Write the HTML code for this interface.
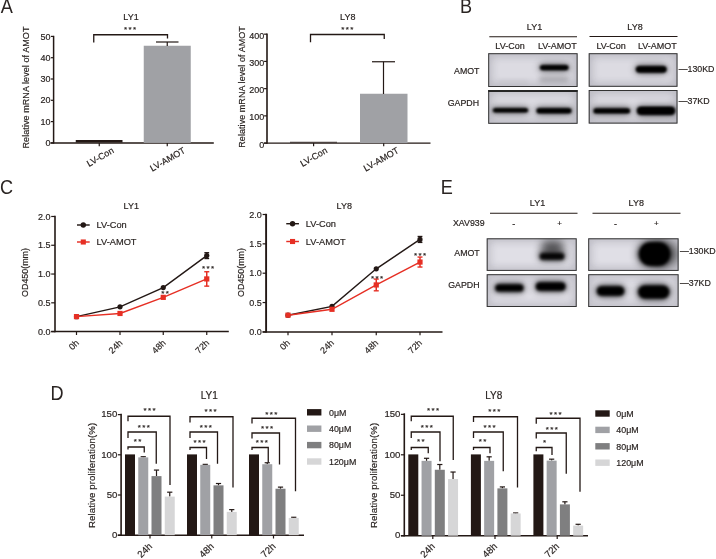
<!DOCTYPE html>
<html><head><meta charset="utf-8"><title>Figure</title>
<style>
html,body{margin:0;padding:0;background:#fff;}
body{width:716px;height:559px;overflow:hidden;font-family:"Liberation Sans",sans-serif;}
svg{display:block;}
svg{will-change:transform;}
svg text{font-family:"Liberation Sans",sans-serif;stroke:#2a2422;stroke-width:0.18px;}
</style></head>
<body>
<svg width="716" height="559" viewBox="0 0 716 559">
<rect width="716" height="559" fill="#fff"/>

<defs>
<filter id="b1" x="-30%" y="-100%" width="160%" height="300%"><feGaussianBlur stdDeviation="1.1"/></filter>
<filter id="b2" x="-30%" y="-150%" width="160%" height="400%"><feGaussianBlur stdDeviation="2.4"/></filter>
<filter id="b3" x="-50%" y="-150%" width="200%" height="400%"><feGaussianBlur stdDeviation="4"/></filter>
<filter id="b15" x="-30%" y="-100%" width="160%" height="300%"><feGaussianBlur stdDeviation="1.7"/></filter>
</defs>

<text transform="translate(0.8 13.2) scale(0.93 1)" font-size="19.5" fill="#2a2422" style="stroke:none">A</text>
<text transform="translate(460.0 13.1) scale(0.93 1)" font-size="19.5" fill="#2a2422" style="stroke:none">B</text>
<text transform="translate(-0.1 193.7) scale(0.93 1)" font-size="19.5" fill="#2a2422" style="stroke:none">C</text>
<text transform="translate(440.8 193.6) scale(0.93 1)" font-size="19.5" fill="#2a2422" style="stroke:none">E</text>
<text transform="translate(50.4 400.2) scale(0.93 1)" font-size="19.5" fill="#2a2422" style="stroke:none">D</text>
<text x="131" y="20" font-size="9" text-anchor="middle" fill="#2a2422">LY1</text>
<line x1="53.6" y1="35.8" x2="53.6" y2="143.6" stroke="#231815" stroke-width="1.5"/>
<line x1="50.4" y1="142.9" x2="213.8" y2="142.9" stroke="#231815" stroke-width="1.5"/>
<line x1="51.0" y1="142.9" x2="53.6" y2="142.9" stroke="#231815" stroke-width="1.2"/>
<text x="50.6" y="146.0" font-size="9" text-anchor="end" fill="#2a2422">0</text>
<line x1="51.0" y1="121.60000000000001" x2="53.6" y2="121.60000000000001" stroke="#231815" stroke-width="1.2"/>
<text x="50.6" y="124.7" font-size="9" text-anchor="end" fill="#2a2422">10</text>
<line x1="51.0" y1="100.30000000000001" x2="53.6" y2="100.30000000000001" stroke="#231815" stroke-width="1.2"/>
<text x="50.6" y="103.4" font-size="9" text-anchor="end" fill="#2a2422">20</text>
<line x1="51.0" y1="79.0" x2="53.6" y2="79.0" stroke="#231815" stroke-width="1.2"/>
<text x="50.6" y="82.1" font-size="9" text-anchor="end" fill="#2a2422">30</text>
<line x1="51.0" y1="57.7" x2="53.6" y2="57.7" stroke="#231815" stroke-width="1.2"/>
<text x="50.6" y="60.800000000000004" font-size="9" text-anchor="end" fill="#2a2422">40</text>
<line x1="51.0" y1="36.400000000000006" x2="53.6" y2="36.400000000000006" stroke="#231815" stroke-width="1.2"/>
<text x="50.6" y="39.50000000000001" font-size="9" text-anchor="end" fill="#2a2422">50</text>
<line x1="99.25" y1="142.9" x2="99.25" y2="146.2" stroke="#231815" stroke-width="1.2"/>
<line x1="167.25" y1="142.9" x2="167.25" y2="146.2" stroke="#231815" stroke-width="1.2"/>
<rect x="75.75" y="140" width="46.75" height="2.5" fill="#231815"/>
<rect x="143.75" y="45.75" width="47" height="97.15" fill="#a0a1a5"/>
<line x1="167.25" y1="42" x2="167.25" y2="46" stroke="#231815" stroke-width="1.2"/>
<line x1="156" y1="42" x2="178.5" y2="42" stroke="#231815" stroke-width="1.2"/>
<path d="M93.75 42.5V34.75H167.5V38.5" stroke="#231815" stroke-width="1.3" fill="none"/>
<text x="130.7" y="32.1" font-size="8" text-anchor="middle" fill="#2a2422" letter-spacing="1.4" stroke="none">***</text>
<text x="29.2" y="87.5" font-size="9" text-anchor="middle" fill="#2a2422" transform="rotate(-90 29.2 87.5)" letter-spacing="0.07">Relative mRNA level of AMOT</text>
<text x="114.5" y="152.3" font-size="9" text-anchor="end" fill="#2a2422" transform="rotate(-30 114.5 152.3)">LV-Con</text>
<text x="186" y="152.3" font-size="9" text-anchor="end" fill="#2a2422" transform="rotate(-30 186 152.3)">LV-AMOT</text>
<text x="347.8" y="20" font-size="9" text-anchor="middle" fill="#2a2422">LY8</text>
<line x1="267" y1="33.6" x2="267" y2="143.79999999999998" stroke="#231815" stroke-width="1.6"/>
<line x1="264" y1="143.1" x2="430.5" y2="143.1" stroke="#231815" stroke-width="1.4"/>
<line x1="264.1" y1="143.1" x2="267" y2="143.1" stroke="#231815" stroke-width="1.2"/>
<text x="264.2" y="147.5" font-size="9" text-anchor="end" fill="#2a2422">0</text>
<line x1="264.1" y1="115.86999999999999" x2="267" y2="115.86999999999999" stroke="#231815" stroke-width="1.2"/>
<text x="264.2" y="120.27" font-size="9" text-anchor="end" fill="#2a2422">100</text>
<line x1="264.1" y1="88.63999999999999" x2="267" y2="88.63999999999999" stroke="#231815" stroke-width="1.2"/>
<text x="264.2" y="93.03999999999999" font-size="9" text-anchor="end" fill="#2a2422">200</text>
<line x1="264.1" y1="61.41" x2="267" y2="61.41" stroke="#231815" stroke-width="1.2"/>
<text x="264.2" y="65.81" font-size="9" text-anchor="end" fill="#2a2422">300</text>
<line x1="264.1" y1="34.17999999999999" x2="267" y2="34.17999999999999" stroke="#231815" stroke-width="1.2"/>
<text x="264.2" y="38.57999999999999" font-size="9" text-anchor="end" fill="#2a2422">400</text>
<line x1="313.6" y1="143.1" x2="313.6" y2="146.3" stroke="#231815" stroke-width="1.2"/>
<line x1="383.7" y1="143.1" x2="383.7" y2="146.3" stroke="#231815" stroke-width="1.2"/>
<rect x="290" y="141.8" width="47" height="0.8" fill="#231815"/>
<rect x="360" y="93.75" width="47.5" height="49.349999999999994" fill="#a0a1a5"/>
<line x1="383.5" y1="61.75" x2="383.5" y2="94" stroke="#231815" stroke-width="1.2"/>
<line x1="372" y1="61.75" x2="395" y2="61.75" stroke="#231815" stroke-width="1.2"/>
<path d="M310.5 42.3V34.5H384.25V39" stroke="#231815" stroke-width="1.3" fill="none"/>
<text x="348.0" y="32.4" font-size="8" text-anchor="middle" fill="#2a2422" letter-spacing="1.4" stroke="none">***</text>
<text x="245.2" y="86.9" font-size="9" text-anchor="middle" fill="#2a2422" transform="rotate(-90 245.2 86.9)" letter-spacing="0.06">Relative mRNA level of AMOT</text>
<text x="328" y="152.3" font-size="9" text-anchor="end" fill="#2a2422" transform="rotate(-30 328 152.3)">LV-Con</text>
<text x="399.5" y="152.3" font-size="9" text-anchor="end" fill="#2a2422" transform="rotate(-30 399.5 152.3)">LV-AMOT</text>
<text x="131.3" y="209.3" font-size="9" text-anchor="middle" fill="#2a2422">LY1</text>
<line x1="55.0" y1="215.8" x2="55.0" y2="332.3" stroke="#231815" stroke-width="1.6"/>
<line x1="51.2" y1="331.6" x2="228.8" y2="331.6" stroke="#231815" stroke-width="1.5"/>
<line x1="51.2" y1="331.6" x2="55.0" y2="331.6" stroke="#231815" stroke-width="1.2"/>
<text x="50.6" y="334.70000000000005" font-size="9" text-anchor="end" fill="#2a2422">0.0</text>
<line x1="51.2" y1="302.82000000000005" x2="55.0" y2="302.82000000000005" stroke="#231815" stroke-width="1.2"/>
<text x="50.6" y="305.9200000000001" font-size="9" text-anchor="end" fill="#2a2422">0.5</text>
<line x1="51.2" y1="274.04" x2="55.0" y2="274.04" stroke="#231815" stroke-width="1.2"/>
<text x="50.6" y="277.14000000000004" font-size="9" text-anchor="end" fill="#2a2422">1.0</text>
<line x1="51.2" y1="245.26000000000002" x2="55.0" y2="245.26000000000002" stroke="#231815" stroke-width="1.2"/>
<text x="50.6" y="248.36" font-size="9" text-anchor="end" fill="#2a2422">1.5</text>
<line x1="51.2" y1="216.48000000000002" x2="55.0" y2="216.48000000000002" stroke="#231815" stroke-width="1.2"/>
<text x="50.6" y="219.58" font-size="9" text-anchor="end" fill="#2a2422">2.0</text>
<line x1="76.5" y1="331.6" x2="76.5" y2="335.0" stroke="#231815" stroke-width="1.2"/>
<text x="79.5" y="343.5" font-size="9" text-anchor="end" fill="#2a2422" transform="rotate(-45 79.5 343.5)">0h</text>
<line x1="120" y1="331.6" x2="120" y2="335.0" stroke="#231815" stroke-width="1.2"/>
<text x="123" y="343.5" font-size="9" text-anchor="end" fill="#2a2422" transform="rotate(-45 123 343.5)">24h</text>
<line x1="163.25" y1="331.6" x2="163.25" y2="335.0" stroke="#231815" stroke-width="1.2"/>
<text x="166.25" y="343.5" font-size="9" text-anchor="end" fill="#2a2422" transform="rotate(-45 166.25 343.5)">48h</text>
<line x1="206.75" y1="331.6" x2="206.75" y2="335.0" stroke="#231815" stroke-width="1.2"/>
<text x="209.75" y="343.5" font-size="9" text-anchor="end" fill="#2a2422" transform="rotate(-45 209.75 343.5)">72h</text>
<polyline points="76.5,316.63 120,306.85 163.25,287.57 206.75,255.62" fill="none" stroke="#231815" stroke-width="1.45"/>
<circle cx="76.5" cy="316.63" r="2.6" fill="#231815"/>
<circle cx="120" cy="306.85" r="2.6" fill="#231815"/>
<circle cx="163.25" cy="287.57" r="2.6" fill="#231815"/>
<line x1="206.75" y1="252.74280000000002" x2="206.75" y2="258.4988" stroke="#231815" stroke-width="1.2"/>
<line x1="204.35" y1="252.74280000000002" x2="209.15" y2="252.74280000000002" stroke="#231815" stroke-width="1.4"/>
<line x1="204.35" y1="258.4988" x2="209.15" y2="258.4988" stroke="#231815" stroke-width="1.4"/>
<circle cx="206.75" cy="255.62" r="2.6" fill="#231815"/>
<polyline points="76.5,316.63 120,313.47 163.25,297.35 206.75,278.93" fill="none" stroke="#e62f24" stroke-width="1.45"/>
<rect x="73.9" y="314.0344" width="5.2" height="5.2" fill="#e62f24"/>
<rect x="117.4" y="310.8686" width="5.2" height="5.2" fill="#e62f24"/>
<rect x="160.65" y="294.7518" width="5.2" height="5.2" fill="#e62f24"/>
<line x1="206.75" y1="271.73760000000004" x2="206.75" y2="286.12760000000003" stroke="#e62f24" stroke-width="1.5"/>
<line x1="204.25" y1="271.73760000000004" x2="209.25" y2="271.73760000000004" stroke="#e62f24" stroke-width="1.4"/>
<line x1="204.25" y1="286.12760000000003" x2="209.25" y2="286.12760000000003" stroke="#e62f24" stroke-width="1.4"/>
<rect x="204.15" y="276.3326" width="5.2" height="5.2" fill="#e62f24"/>
<text x="165.7" y="295.90000000000003" font-size="8" text-anchor="middle" fill="#2a2422" letter-spacing="1.4" stroke="none">**</text>
<text x="208.7" y="271.20000000000005" font-size="8" text-anchor="middle" fill="#2a2422" letter-spacing="1.4" stroke="none">***</text>
<line x1="77" y1="225" x2="89.7" y2="225" stroke="#231815" stroke-width="1.45"/>
<circle cx="83.3" cy="225" r="2.7" fill="#231815"/>
<text x="96.6" y="228.1" font-size="9.25" text-anchor="start" fill="#2a2422">LV-Con</text>
<line x1="77" y1="242" x2="89.7" y2="242" stroke="#e62f24" stroke-width="1.45"/>
<rect x="80.75" y="239.45" width="5.1" height="5.1" fill="#e62f24"/>
<text x="96.6" y="245.3" font-size="9.25" text-anchor="start" fill="#2a2422">LV-AMOT</text>
<text x="28.0" y="272.5" font-size="8.9" text-anchor="middle" fill="#2a2422" transform="rotate(-90 28.0 272.5)">OD450(mm)</text>
<text x="344.25" y="209.3" font-size="9" text-anchor="middle" fill="#2a2422">LY8</text>
<line x1="266.1" y1="213.8" x2="266.1" y2="332.59999999999997" stroke="#231815" stroke-width="1.9"/>
<line x1="262.6" y1="331.9" x2="442.5" y2="331.9" stroke="#231815" stroke-width="1.5"/>
<line x1="262.6" y1="331.9" x2="266.1" y2="331.9" stroke="#231815" stroke-width="1.2"/>
<text x="261.7" y="335.0" font-size="9" text-anchor="end" fill="#2a2422">0.0</text>
<line x1="262.6" y1="302.54999999999995" x2="266.1" y2="302.54999999999995" stroke="#231815" stroke-width="1.2"/>
<text x="261.7" y="305.65" font-size="9" text-anchor="end" fill="#2a2422">0.5</text>
<line x1="262.6" y1="273.2" x2="266.1" y2="273.2" stroke="#231815" stroke-width="1.2"/>
<text x="261.7" y="276.3" font-size="9" text-anchor="end" fill="#2a2422">1.0</text>
<line x1="262.6" y1="243.84999999999997" x2="266.1" y2="243.84999999999997" stroke="#231815" stroke-width="1.2"/>
<text x="261.7" y="246.94999999999996" font-size="9" text-anchor="end" fill="#2a2422">1.5</text>
<line x1="262.6" y1="214.49999999999997" x2="266.1" y2="214.49999999999997" stroke="#231815" stroke-width="1.2"/>
<text x="261.7" y="217.59999999999997" font-size="9" text-anchor="end" fill="#2a2422">2.0</text>
<line x1="288" y1="331.9" x2="288" y2="335.29999999999995" stroke="#231815" stroke-width="1.2"/>
<text x="290.5" y="343.5" font-size="9" text-anchor="end" fill="#2a2422" transform="rotate(-45 290.5 343.5)">0h</text>
<line x1="332" y1="331.9" x2="332" y2="335.29999999999995" stroke="#231815" stroke-width="1.2"/>
<text x="334.5" y="343.5" font-size="9" text-anchor="end" fill="#2a2422" transform="rotate(-45 334.5 343.5)">24h</text>
<line x1="376.25" y1="331.9" x2="376.25" y2="335.29999999999995" stroke="#231815" stroke-width="1.2"/>
<text x="378.75" y="343.5" font-size="9" text-anchor="end" fill="#2a2422" transform="rotate(-45 378.75 343.5)">48h</text>
<line x1="420" y1="331.9" x2="420" y2="335.29999999999995" stroke="#231815" stroke-width="1.2"/>
<text x="422.5" y="343.5" font-size="9" text-anchor="end" fill="#2a2422" transform="rotate(-45 422.5 343.5)">72h</text>
<polyline points="288,315.17 332,306.37 376.25,268.80 420,239.45" fill="none" stroke="#231815" stroke-width="1.45"/>
<circle cx="288" cy="315.17" r="2.6" fill="#231815"/>
<circle cx="332" cy="306.37" r="2.6" fill="#231815"/>
<circle cx="376.25" cy="268.80" r="2.6" fill="#231815"/>
<line x1="420" y1="236.5125" x2="420" y2="242.3825" stroke="#231815" stroke-width="1.2"/>
<line x1="417.6" y1="236.5125" x2="422.4" y2="236.5125" stroke="#231815" stroke-width="1.4"/>
<line x1="417.6" y1="242.3825" x2="422.4" y2="242.3825" stroke="#231815" stroke-width="1.4"/>
<circle cx="420" cy="239.45" r="2.6" fill="#231815"/>
<polyline points="288,315.17 332,309.30 376.25,284.94 420,262.05" fill="none" stroke="#e62f24" stroke-width="1.45"/>
<rect x="285.4" y="312.5705" width="5.2" height="5.2" fill="#e62f24"/>
<rect x="329.4" y="306.7005" width="5.2" height="5.2" fill="#e62f24"/>
<line x1="376.25" y1="279.07" x2="376.25" y2="290.80999999999995" stroke="#e62f24" stroke-width="1.5"/>
<line x1="373.75" y1="279.07" x2="378.75" y2="279.07" stroke="#e62f24" stroke-width="1.4"/>
<line x1="373.75" y1="290.80999999999995" x2="378.75" y2="290.80999999999995" stroke="#e62f24" stroke-width="1.4"/>
<rect x="373.65" y="282.3399999999999" width="5.2" height="5.2" fill="#e62f24"/>
<line x1="420" y1="257.0575" x2="420" y2="267.0365" stroke="#e62f24" stroke-width="1.5"/>
<line x1="417.5" y1="257.0575" x2="422.5" y2="257.0575" stroke="#e62f24" stroke-width="1.4"/>
<line x1="417.5" y1="267.0365" x2="422.5" y2="267.0365" stroke="#e62f24" stroke-width="1.4"/>
<rect x="417.4" y="259.44699999999995" width="5.2" height="5.2" fill="#e62f24"/>
<text x="377.7" y="280.6" font-size="8" text-anchor="middle" fill="#2a2422" letter-spacing="1.4" stroke="none">***</text>
<text x="420.7" y="257.6" font-size="8" text-anchor="middle" fill="#2a2422" letter-spacing="1.4" stroke="none">***</text>
<line x1="286.25" y1="223.7" x2="298.95" y2="223.7" stroke="#231815" stroke-width="1.45"/>
<circle cx="292.55" cy="223.7" r="2.7" fill="#231815"/>
<text x="305.85" y="226.79999999999998" font-size="9.25" text-anchor="start" fill="#2a2422">LV-Con</text>
<line x1="286.25" y1="241.5" x2="298.95" y2="241.5" stroke="#e62f24" stroke-width="1.45"/>
<rect x="290.0" y="238.95" width="5.1" height="5.1" fill="#e62f24"/>
<text x="305.85" y="244.8" font-size="9.25" text-anchor="start" fill="#2a2422">LV-AMOT</text>
<text x="244.29999999999998" y="272.5" font-size="8.9" text-anchor="middle" fill="#2a2422" transform="rotate(-90 244.29999999999998 272.5)">OD450(mm)</text>
<text x="209.25" y="398.6" font-size="10" text-anchor="middle" fill="#2a2422">LY1</text>
<line x1="121.1" y1="413.8" x2="121.1" y2="535.9000000000001" stroke="#231815" stroke-width="1.6"/>
<line x1="117.8" y1="535.2" x2="304" y2="535.2" stroke="#231815" stroke-width="1.5"/>
<line x1="117.8" y1="535.2" x2="121.1" y2="535.2" stroke="#231815" stroke-width="1.2"/>
<text x="117.3" y="537.9000000000001" font-size="9.6" text-anchor="end" fill="#2a2422">0</text>
<line x1="117.8" y1="495.00000000000006" x2="121.1" y2="495.00000000000006" stroke="#231815" stroke-width="1.2"/>
<text x="117.3" y="497.70000000000005" font-size="9.6" text-anchor="end" fill="#2a2422">50</text>
<line x1="117.8" y1="454.80000000000007" x2="121.1" y2="454.80000000000007" stroke="#231815" stroke-width="1.2"/>
<text x="117.3" y="457.50000000000006" font-size="9.6" text-anchor="end" fill="#2a2422">100</text>
<line x1="117.8" y1="414.6" x2="121.1" y2="414.6" stroke="#231815" stroke-width="1.2"/>
<text x="117.3" y="417.3" font-size="9.6" text-anchor="end" fill="#2a2422">150</text>
<line x1="150" y1="535.2" x2="150" y2="538.5" stroke="#231815" stroke-width="1.2"/>
<text x="152.7" y="547" font-size="9.6" text-anchor="end" fill="#2a2422" transform="rotate(-45 152.7 547)">24h</text>
<rect x="125.0" y="454.398" width="10" height="80.80200000000002" fill="#231815"/>
<line x1="143.25" y1="456.72960000000006" x2="143.25" y2="457.37280000000004" stroke="#231815" stroke-width="1.2"/>
<line x1="140.65" y1="456.72960000000006" x2="145.85" y2="456.72960000000006" stroke="#231815" stroke-width="1.2"/>
<rect x="138.25" y="457.37280000000004" width="10" height="77.8272" fill="#a0a1a5"/>
<line x1="156.5" y1="470.076" x2="156.5" y2="476.10600000000005" stroke="#231815" stroke-width="1.2"/>
<line x1="153.9" y1="470.076" x2="159.1" y2="470.076" stroke="#231815" stroke-width="1.2"/>
<rect x="151.5" y="476.10600000000005" width="10" height="59.093999999999994" fill="#7f7f80"/>
<line x1="169.75" y1="492.18600000000004" x2="169.75" y2="496.60800000000006" stroke="#231815" stroke-width="1.2"/>
<line x1="167.15" y1="492.18600000000004" x2="172.35" y2="492.18600000000004" stroke="#231815" stroke-width="1.2"/>
<rect x="164.75" y="496.60800000000006" width="10" height="38.591999999999985" fill="#d6d6d7"/>
<path d="M128 449.5V447H144.25V452.5" stroke="#231815" stroke-width="1.3" fill="none"/>
<text x="138.2" y="443.8" font-size="8" text-anchor="middle" fill="#2a2422" letter-spacing="1.4" stroke="none">**</text>
<path d="M128 438V432H156.25V463.75" stroke="#231815" stroke-width="1.3" fill="none"/>
<text x="144.45" y="430.3" font-size="8" text-anchor="middle" fill="#2a2422" letter-spacing="1.4" stroke="none">***</text>
<path d="M128 421.25V416.25H170V485" stroke="#231815" stroke-width="1.3" fill="none"/>
<text x="150.2" y="413.3" font-size="8" text-anchor="middle" fill="#2a2422" letter-spacing="1.4" stroke="none">***</text>
<line x1="211.75" y1="535.2" x2="211.75" y2="538.5" stroke="#231815" stroke-width="1.2"/>
<text x="214.45" y="547" font-size="9.6" text-anchor="end" fill="#2a2422" transform="rotate(-45 214.45 547)">48h</text>
<rect x="187.0" y="454.398" width="10" height="80.80200000000002" fill="#231815"/>
<line x1="205.25" y1="464.36760000000004" x2="205.25" y2="464.85" stroke="#231815" stroke-width="1.2"/>
<line x1="202.65" y1="464.36760000000004" x2="207.85" y2="464.36760000000004" stroke="#231815" stroke-width="1.2"/>
<rect x="200.25" y="464.85" width="10" height="70.35000000000002" fill="#a0a1a5"/>
<line x1="218.5" y1="483.50280000000004" x2="218.5" y2="485.35200000000003" stroke="#231815" stroke-width="1.2"/>
<line x1="215.9" y1="483.50280000000004" x2="221.1" y2="483.50280000000004" stroke="#231815" stroke-width="1.2"/>
<rect x="213.5" y="485.35200000000003" width="10" height="49.84800000000001" fill="#7f7f80"/>
<line x1="231.75" y1="509.63280000000003" x2="231.75" y2="511.884" stroke="#231815" stroke-width="1.2"/>
<line x1="229.15" y1="509.63280000000003" x2="234.35" y2="509.63280000000003" stroke="#231815" stroke-width="1.2"/>
<rect x="226.75" y="511.884" width="10" height="23.31600000000003" fill="#d6d6d7"/>
<path d="M190 450V447.5H206.5V459" stroke="#231815" stroke-width="1.3" fill="none"/>
<text x="200.2" y="444.5" font-size="8" text-anchor="middle" fill="#2a2422" letter-spacing="1.4" stroke="none">***</text>
<path d="M190 438V432H217.5V463.75" stroke="#231815" stroke-width="1.3" fill="none"/>
<text x="206.45" y="430.3" font-size="8" text-anchor="middle" fill="#2a2422" letter-spacing="1.4" stroke="none">***</text>
<path d="M190 422.5V416.75H233V487.5" stroke="#231815" stroke-width="1.3" fill="none"/>
<text x="211.2" y="413.8" font-size="8" text-anchor="middle" fill="#2a2422" letter-spacing="1.4" stroke="none">***</text>
<line x1="273.5" y1="535.2" x2="273.5" y2="538.5" stroke="#231815" stroke-width="1.2"/>
<text x="276.2" y="547" font-size="9.6" text-anchor="end" fill="#2a2422" transform="rotate(-45 276.2 547)">72h</text>
<rect x="249.0" y="454.398" width="10" height="80.80200000000002" fill="#231815"/>
<line x1="267.25" y1="462.75960000000003" x2="267.25" y2="464.20680000000004" stroke="#231815" stroke-width="1.2"/>
<line x1="264.65" y1="462.75960000000003" x2="269.85" y2="462.75960000000003" stroke="#231815" stroke-width="1.2"/>
<rect x="262.25" y="464.20680000000004" width="10" height="70.9932" fill="#a0a1a5"/>
<line x1="280.5" y1="487.12080000000003" x2="280.5" y2="488.72880000000004" stroke="#231815" stroke-width="1.2"/>
<line x1="277.9" y1="487.12080000000003" x2="283.1" y2="487.12080000000003" stroke="#231815" stroke-width="1.2"/>
<rect x="275.5" y="488.72880000000004" width="10" height="46.47120000000001" fill="#7f7f80"/>
<line x1="293.75" y1="517.2708" x2="293.75" y2="517.914" stroke="#231815" stroke-width="1.2"/>
<line x1="291.15" y1="517.2708" x2="296.35" y2="517.2708" stroke="#231815" stroke-width="1.2"/>
<rect x="288.75" y="517.914" width="10" height="17.286000000000058" fill="#d6d6d7"/>
<path d="M252 450V447.5H268.25V462.5" stroke="#231815" stroke-width="1.3" fill="none"/>
<text x="262.45" y="444.5" font-size="8" text-anchor="middle" fill="#2a2422" letter-spacing="1.4" stroke="none">***</text>
<path d="M252 438.5V433H279.5V464.5" stroke="#231815" stroke-width="1.3" fill="none"/>
<text x="267.7" y="431.3" font-size="8" text-anchor="middle" fill="#2a2422" letter-spacing="1.4" stroke="none">***</text>
<path d="M252 423.5V418.25H295.5V491.25" stroke="#231815" stroke-width="1.3" fill="none"/>
<text x="271.95" y="416.5" font-size="8" text-anchor="middle" fill="#2a2422" letter-spacing="1.4" stroke="none">***</text>
<text x="95.0" y="475.4" font-size="9.7" text-anchor="middle" fill="#2a2422" transform="rotate(-90 95.0 475.4)" letter-spacing="0.08">Relative proliferation(%)</text>
<rect x="307.0" y="409.1" width="14.4" height="6.4" fill="#231815"/>
<text x="329" y="415.6" font-size="8.9" text-anchor="start" fill="#2a2422">0μM</text>
<rect x="307.0" y="425.5" width="14.4" height="6.4" fill="#a0a1a5"/>
<text x="329" y="432.0" font-size="8.9" text-anchor="start" fill="#2a2422">40μM</text>
<rect x="307.0" y="441.90000000000003" width="14.4" height="6.4" fill="#7f7f80"/>
<text x="329" y="448.40000000000003" font-size="8.9" text-anchor="start" fill="#2a2422">80μM</text>
<rect x="307.0" y="458.3" width="14.4" height="6.4" fill="#d6d6d7"/>
<text x="329" y="464.8" font-size="8.9" text-anchor="start" fill="#2a2422">120μM</text>
<text x="493.75" y="398.6" font-size="10" text-anchor="middle" fill="#2a2422">LY8</text>
<line x1="404.3" y1="413.3" x2="404.3" y2="536.4000000000001" stroke="#231815" stroke-width="1.6"/>
<line x1="400.9" y1="535.7" x2="588" y2="535.7" stroke="#231815" stroke-width="1.5"/>
<line x1="400.9" y1="535.7" x2="404.3" y2="535.7" stroke="#231815" stroke-width="1.2"/>
<text x="400.4" y="538.4000000000001" font-size="9.6" text-anchor="end" fill="#2a2422">0</text>
<line x1="400.9" y1="495.25000000000006" x2="404.3" y2="495.25000000000006" stroke="#231815" stroke-width="1.2"/>
<text x="400.4" y="497.95000000000005" font-size="9.6" text-anchor="end" fill="#2a2422">50</text>
<line x1="400.9" y1="454.80000000000007" x2="404.3" y2="454.80000000000007" stroke="#231815" stroke-width="1.2"/>
<text x="400.4" y="457.50000000000006" font-size="9.6" text-anchor="end" fill="#2a2422">100</text>
<line x1="400.9" y1="414.35" x2="404.3" y2="414.35" stroke="#231815" stroke-width="1.2"/>
<text x="400.4" y="417.05" font-size="9.6" text-anchor="end" fill="#2a2422">150</text>
<line x1="432.8" y1="535.7" x2="432.8" y2="539.0" stroke="#231815" stroke-width="1.2"/>
<text x="435.5" y="547" font-size="9.6" text-anchor="end" fill="#2a2422" transform="rotate(-45 435.5 547)">24h</text>
<rect x="408.3" y="454.3955" width="10" height="81.30450000000002" fill="#231815"/>
<line x1="426.55" y1="458.2787000000001" x2="426.55" y2="460.86750000000006" stroke="#231815" stroke-width="1.2"/>
<line x1="423.95" y1="458.2787000000001" x2="429.15000000000003" y2="458.2787000000001" stroke="#231815" stroke-width="1.2"/>
<rect x="421.55" y="460.86750000000006" width="10" height="74.83249999999998" fill="#a0a1a5"/>
<line x1="439.8" y1="464.50800000000004" x2="439.8" y2="469.76650000000006" stroke="#231815" stroke-width="1.2"/>
<line x1="437.2" y1="464.50800000000004" x2="442.40000000000003" y2="464.50800000000004" stroke="#231815" stroke-width="1.2"/>
<rect x="434.8" y="469.76650000000006" width="10" height="65.93349999999998" fill="#7f7f80"/>
<line x1="453.05" y1="472.03170000000006" x2="453.05" y2="479.07000000000005" stroke="#231815" stroke-width="1.2"/>
<line x1="450.45" y1="472.03170000000006" x2="455.65000000000003" y2="472.03170000000006" stroke="#231815" stroke-width="1.2"/>
<rect x="448.05" y="479.07000000000005" width="10" height="56.629999999999995" fill="#d6d6d7"/>
<path d="M411.25 450V447.5H428.25V453.25" stroke="#231815" stroke-width="1.3" fill="none"/>
<text x="421.45" y="443.8" font-size="8" text-anchor="middle" fill="#2a2422" letter-spacing="1.4" stroke="none">**</text>
<path d="M411.25 438V432H440V461.25" stroke="#231815" stroke-width="1.3" fill="none"/>
<text x="427.45" y="430.3" font-size="8" text-anchor="middle" fill="#2a2422" letter-spacing="1.4" stroke="none">***</text>
<path d="M411.25 421.25V416.25H453.25V460" stroke="#231815" stroke-width="1.3" fill="none"/>
<text x="433.7" y="413.3" font-size="8" text-anchor="middle" fill="#2a2422" letter-spacing="1.4" stroke="none">***</text>
<line x1="495" y1="535.7" x2="495" y2="539.0" stroke="#231815" stroke-width="1.2"/>
<text x="497.7" y="547" font-size="9.6" text-anchor="end" fill="#2a2422" transform="rotate(-45 497.7 547)">48h</text>
<rect x="470.9" y="454.3955" width="10" height="81.30450000000002" fill="#231815"/>
<line x1="489.15" y1="456.82250000000005" x2="489.15" y2="460.86750000000006" stroke="#231815" stroke-width="1.2"/>
<line x1="486.54999999999995" y1="456.82250000000005" x2="491.75" y2="456.82250000000005" stroke="#231815" stroke-width="1.2"/>
<rect x="484.15" y="460.86750000000006" width="10" height="74.83249999999998" fill="#a0a1a5"/>
<line x1="502.4" y1="486.91730000000007" x2="502.4" y2="488.37350000000004" stroke="#231815" stroke-width="1.2"/>
<line x1="499.79999999999995" y1="486.91730000000007" x2="505.0" y2="486.91730000000007" stroke="#231815" stroke-width="1.2"/>
<rect x="497.4" y="488.37350000000004" width="10" height="47.32650000000001" fill="#7f7f80"/>
<line x1="515.65" y1="512.9671000000001" x2="515.65" y2="513.4525000000001" stroke="#231815" stroke-width="1.2"/>
<line x1="513.05" y1="512.9671000000001" x2="518.25" y2="512.9671000000001" stroke="#231815" stroke-width="1.2"/>
<rect x="510.65" y="513.4525000000001" width="10" height="22.247499999999945" fill="#d6d6d7"/>
<path d="M473.5 450V447.5H490V453.25" stroke="#231815" stroke-width="1.3" fill="none"/>
<text x="483.2" y="443.8" font-size="8" text-anchor="middle" fill="#2a2422" letter-spacing="1.4" stroke="none">**</text>
<path d="M473.5 438V432H503.25V471.25" stroke="#231815" stroke-width="1.3" fill="none"/>
<text x="490.2" y="430.3" font-size="8" text-anchor="middle" fill="#2a2422" letter-spacing="1.4" stroke="none">***</text>
<path d="M473.5 422V416.75H517.5V487.5" stroke="#231815" stroke-width="1.3" fill="none"/>
<text x="494.95" y="413.8" font-size="8" text-anchor="middle" fill="#2a2422" letter-spacing="1.4" stroke="none">***</text>
<line x1="557.2" y1="535.7" x2="557.2" y2="539.0" stroke="#231815" stroke-width="1.2"/>
<text x="559.9000000000001" y="547" font-size="9.6" text-anchor="end" fill="#2a2422" transform="rotate(-45 559.9000000000001 547)">72h</text>
<rect x="533.4" y="454.3955" width="10" height="81.30450000000002" fill="#231815"/>
<line x1="551.65" y1="459.1686" x2="551.65" y2="460.62480000000005" stroke="#231815" stroke-width="1.2"/>
<line x1="549.05" y1="459.1686" x2="554.25" y2="459.1686" stroke="#231815" stroke-width="1.2"/>
<rect x="546.65" y="460.62480000000005" width="10" height="75.0752" fill="#a0a1a5"/>
<line x1="564.9" y1="501.8029" x2="564.9" y2="504.3917" stroke="#231815" stroke-width="1.2"/>
<line x1="562.3" y1="501.8029" x2="567.5" y2="501.8029" stroke="#231815" stroke-width="1.2"/>
<rect x="559.9" y="504.3917" width="10" height="31.30830000000003" fill="#7f7f80"/>
<line x1="578.15" y1="524.2931000000001" x2="578.15" y2="525.5875000000001" stroke="#231815" stroke-width="1.2"/>
<line x1="575.55" y1="524.2931000000001" x2="580.75" y2="524.2931000000001" stroke="#231815" stroke-width="1.2"/>
<rect x="573.15" y="525.5875000000001" width="10" height="10.112499999999955" fill="#d6d6d7"/>
<path d="M536.25 451.25V447.5H552V455" stroke="#231815" stroke-width="1.3" fill="none"/>
<text x="545.2" y="445.0" font-size="8" text-anchor="middle" fill="#2a2422" letter-spacing="1.4" stroke="none">*</text>
<path d="M536.25 438.5V433H566.25V473.75" stroke="#231815" stroke-width="1.3" fill="none"/>
<text x="552.45" y="431.5" font-size="8" text-anchor="middle" fill="#2a2422" letter-spacing="1.4" stroke="none">***</text>
<path d="M536.25 423.75V418.25H580V491.75" stroke="#231815" stroke-width="1.3" fill="none"/>
<text x="556.2" y="416.5" font-size="8" text-anchor="middle" fill="#2a2422" letter-spacing="1.4" stroke="none">***</text>
<text x="376.59999999999997" y="475.4" font-size="9.7" text-anchor="middle" fill="#2a2422" transform="rotate(-90 376.59999999999997 475.4)" letter-spacing="0.08">Relative proliferation(%)</text>
<rect x="595.3" y="410.3" width="14.4" height="6.4" fill="#231815"/>
<text x="616.3" y="416.8" font-size="8.9" text-anchor="start" fill="#2a2422">0μM</text>
<rect x="595.3" y="426.7" width="14.4" height="6.4" fill="#a0a1a5"/>
<text x="616.3" y="433.2" font-size="8.9" text-anchor="start" fill="#2a2422">40μM</text>
<rect x="595.3" y="443.1" width="14.4" height="6.4" fill="#7f7f80"/>
<text x="616.3" y="449.6" font-size="8.9" text-anchor="start" fill="#2a2422">80μM</text>
<rect x="595.3" y="459.5" width="14.4" height="6.4" fill="#d6d6d7"/>
<text x="616.3" y="466.0" font-size="8.9" text-anchor="start" fill="#2a2422">120μM</text>
<text x="534.5" y="29.6" font-size="9" text-anchor="middle" fill="#2a2422">LY1</text>
<text x="635" y="29.6" font-size="9" text-anchor="middle" fill="#2a2422">LY8</text>
<line x1="489.3" y1="36.7" x2="577" y2="36.7" stroke="#231815" stroke-width="1.05"/>
<line x1="589.5" y1="36.4" x2="677.5" y2="36.4" stroke="#231815" stroke-width="1.05"/>
<text x="495.3" y="48.8" font-size="9" text-anchor="start" fill="#2a2422">LV-Con</text>
<text x="538" y="48.8" font-size="9" text-anchor="start" fill="#2a2422">LV-AMOT</text>
<text x="596.5" y="48.8" font-size="9" text-anchor="start" fill="#2a2422">LV-Con</text>
<text x="638" y="48.8" font-size="9" text-anchor="start" fill="#2a2422">LV-AMOT</text>
<text x="479.5" y="73.7" font-size="8.8" text-anchor="end" fill="#2a2422">AMOT</text>
<text x="479" y="105.7" font-size="8.8" text-anchor="end" fill="#2a2422">GAPDH</text>
<clipPath id="c1"><rect x="488.2" y="53.2" width="89.4" height="33.8"/></clipPath>
<rect x="488.2" y="53.2" width="89.4" height="33.8" fill="#dcdbe2"/>
<g clip-path="url(#c1)">
<rect x="487.2" y="52.2" width="91.4" height="35.8" fill="none" stroke="#1a1a2a" stroke-width="7" opacity="0.22" filter="url(#b3)"/>
<rect x="540.3" y="65.39999999999999" width="27.90000000000009" height="4.4" rx="2.2" ry="2.2" fill="#000" opacity="1" filter="url(#b1)"/>
<rect x="540" y="65.19999999999999" width="28.5" height="4.8" rx="2.4" ry="2.4" fill="#000" opacity="0.6" filter="url(#b15)"/>
<rect x="539.5" y="64.5" width="29.5" height="6.2" rx="3.1" ry="3.1" fill="#000" opacity="0.4" filter="url(#b2)"/>
<rect x="539" y="63.49999999999999" width="30.5" height="8.2" rx="4.1" ry="4.1" fill="#000" opacity="0.3" filter="url(#b3)"/>
<rect x="539" y="76.5" width="30" height="6" rx="3.0" ry="3.0" fill="#000" opacity="0.2" filter="url(#b2)"/>
<rect x="498" y="80.5" width="30" height="3" rx="1.5" ry="1.5" fill="#000" opacity="0.06" filter="url(#b2)"/>
</g>
<rect x="488.7" y="53.7" width="88.4" height="32.8" fill="none" stroke="#333" stroke-width="1"/>
<clipPath id="c2"><rect x="488.2" y="90" width="89.4" height="33.8"/></clipPath>
<rect x="488.2" y="90" width="89.4" height="33.8" fill="#dcdbe2"/>
<g clip-path="url(#c2)">
<rect x="487.2" y="89" width="91.4" height="35.8" fill="none" stroke="#1a1a2a" stroke-width="7" opacity="0.22" filter="url(#b3)"/>
<rect x="493.3" y="108.6" width="34.400000000000034" height="3.4000000000000004" rx="1.7000000000000002" ry="1.7000000000000002" fill="#000" opacity="1" filter="url(#b1)"/>
<rect x="493" y="108.39999999999999" width="35" height="3.8000000000000003" rx="1.9000000000000001" ry="1.9000000000000001" fill="#000" opacity="0.6" filter="url(#b15)"/>
<rect x="492.5" y="107.7" width="36.0" height="5.2" rx="2.6" ry="2.6" fill="#000" opacity="0.4" filter="url(#b2)"/>
<rect x="492" y="106.7" width="37" height="7.2" rx="3.6" ry="3.6" fill="#000" opacity="0.3" filter="url(#b3)"/>
<rect x="536.8" y="108.6" width="34.40000000000009" height="4.4" rx="2.2" ry="2.2" fill="#000" opacity="1" filter="url(#b1)"/>
<rect x="536.5" y="108.39999999999999" width="35.0" height="4.8" rx="2.4" ry="2.4" fill="#000" opacity="0.6" filter="url(#b15)"/>
<rect x="536.0" y="107.7" width="36.0" height="6.2" rx="3.1" ry="3.1" fill="#000" opacity="0.4" filter="url(#b2)"/>
<rect x="535.5" y="106.7" width="37.0" height="8.2" rx="4.1" ry="4.1" fill="#000" opacity="0.3" filter="url(#b3)"/>
</g>
<rect x="488.7" y="90.5" width="88.4" height="32.8" fill="none" stroke="#333" stroke-width="1"/>
<rect x="488.2" y="90" width="89.4" height="2" fill="#262626"/>
<clipPath id="c3"><rect x="588.7" y="53.2" width="88.8" height="33.6"/></clipPath>
<rect x="588.7" y="53.2" width="88.8" height="33.6" fill="#dcdbe2"/>
<g clip-path="url(#c3)">
<rect x="587.7" y="52.2" width="90.8" height="35.6" fill="none" stroke="#1a1a2a" stroke-width="7" opacity="0.22" filter="url(#b3)"/>
<rect x="636.3" y="66.39999999999999" width="29.90000000000009" height="5.8" rx="2.9" ry="2.9" fill="#000" opacity="1" filter="url(#b1)"/>
<rect x="636" y="66.2" width="30.5" height="6.199999999999999" rx="3.0999999999999996" ry="3.0999999999999996" fill="#000" opacity="0.6" filter="url(#b15)"/>
<rect x="635.5" y="65.5" width="31.5" height="7.6" rx="3.8" ry="3.8" fill="#000" opacity="0.4" filter="url(#b2)"/>
<rect x="635" y="64.5" width="32.5" height="9.6" rx="4.8" ry="4.8" fill="#000" opacity="0.3" filter="url(#b3)"/>
</g>
<rect x="589.2" y="53.7" width="87.8" height="32.6" fill="none" stroke="#333" stroke-width="1"/>
<clipPath id="c4"><rect x="588.7" y="90" width="88.8" height="33.6"/></clipPath>
<rect x="588.7" y="90" width="88.8" height="33.6" fill="#dcdbe2"/>
<g clip-path="url(#c4)">
<rect x="587.7" y="89" width="90.8" height="35.6" fill="none" stroke="#1a1a2a" stroke-width="7" opacity="0.22" filter="url(#b3)"/>
<rect x="593.8" y="108.7" width="35.90000000000009" height="4.4" rx="2.2" ry="2.2" fill="#000" opacity="1" filter="url(#b1)"/>
<rect x="593.5" y="108.5" width="36.5" height="4.8" rx="2.4" ry="2.4" fill="#000" opacity="0.6" filter="url(#b15)"/>
<rect x="593.0" y="107.80000000000001" width="37.5" height="6.2" rx="3.1" ry="3.1" fill="#000" opacity="0.4" filter="url(#b2)"/>
<rect x="592.5" y="106.80000000000001" width="38.5" height="8.2" rx="4.1" ry="4.1" fill="#000" opacity="0.3" filter="url(#b3)"/>
<rect x="637.3" y="107.1" width="37.40000000000009" height="7.3999999999999995" rx="3.6999999999999997" ry="3.6999999999999997" fill="#000" opacity="1" filter="url(#b1)"/>
<rect x="637" y="106.89999999999999" width="38" height="7.799999999999999" rx="3.8999999999999995" ry="3.8999999999999995" fill="#000" opacity="0.6" filter="url(#b15)"/>
<rect x="636.5" y="106.2" width="39.0" height="9.2" rx="4.6" ry="4.6" fill="#000" opacity="0.4" filter="url(#b2)"/>
<rect x="636" y="105.2" width="40" height="11.2" rx="5.6" ry="5.6" fill="#000" opacity="0.3" filter="url(#b3)"/>
</g>
<rect x="589.2" y="90.5" width="87.8" height="32.6" fill="none" stroke="#333" stroke-width="1"/>
<text x="678.7" y="72.3" font-size="8.8" text-anchor="start" fill="#2a2422">—130KD</text>
<text x="678.7" y="103.6" font-size="8.8" text-anchor="start" fill="#2a2422">—37KD</text>
<text x="537.5" y="206.4" font-size="9" text-anchor="middle" fill="#2a2422">LY1</text>
<text x="636.25" y="206.4" font-size="9" text-anchor="middle" fill="#2a2422">LY8</text>
<line x1="490" y1="213.3" x2="577.5" y2="213.3" stroke="#231815" stroke-width="1.05"/>
<line x1="592.5" y1="213.3" x2="680.5" y2="213.3" stroke="#231815" stroke-width="1.05"/>
<text x="453" y="226.4" font-size="8.8" text-anchor="start" fill="#2a2422">XAV939</text>
<text x="513.8" y="226.7" font-size="9" text-anchor="middle" fill="#2a2422">-</text>
<text x="559.5" y="226" font-size="8" text-anchor="middle" fill="#2a2422">+</text>
<text x="615.5" y="226.7" font-size="9" text-anchor="middle" fill="#2a2422">-</text>
<text x="656.3" y="226" font-size="8" text-anchor="middle" fill="#2a2422">+</text>
<text x="479.7" y="256.4" font-size="8.8" text-anchor="end" fill="#2a2422">AMOT</text>
<text x="479.5" y="287.7" font-size="8.8" text-anchor="end" fill="#2a2422">GAPDH</text>
<clipPath id="c5"><rect x="486.7" y="238.3" width="90" height="32.6"/></clipPath>
<rect x="486.7" y="238.3" width="90" height="32.6" fill="#e0dfe6"/>
<g clip-path="url(#c5)">
<rect x="485.7" y="237.3" width="92" height="34.6" fill="none" stroke="#1a1a2a" stroke-width="7" opacity="0.22" filter="url(#b3)"/>
<rect x="540" y="253.2" width="24" height="6.4" rx="3.2" ry="3.2" fill="#000" opacity="0.92" filter="url(#b15)"/>
<rect x="539" y="251.95" width="26" height="8.5" rx="4.25" ry="4.25" fill="#000" opacity="0.6" filter="url(#b2)"/>
<rect x="541" y="240.5" width="23" height="14" rx="7.0" ry="7.0" fill="#000" opacity="0.62" filter="url(#b3)"/>
<rect x="538" y="251.0" width="28" height="10" rx="5.0" ry="5.0" fill="#000" opacity="0.3" filter="url(#b3)"/>
</g>
<rect x="487.2" y="238.8" width="89" height="31.6" fill="none" stroke="#333" stroke-width="1"/>
<clipPath id="c6"><rect x="486.7" y="274.2" width="90" height="32.8"/></clipPath>
<rect x="486.7" y="274.2" width="90" height="32.8" fill="#e0dfe6"/>
<g clip-path="url(#c6)">
<rect x="485.7" y="273.2" width="92" height="34.8" fill="none" stroke="#1a1a2a" stroke-width="7" opacity="0.22" filter="url(#b3)"/>
<rect x="495.5" y="284.5" width="27.799999999999955" height="6.8" rx="3.4" ry="3.4" fill="#000" opacity="1" filter="url(#b15)"/>
<rect x="495" y="284.0" width="28.799999999999955" height="7.8" rx="3.9" ry="3.9" fill="#000" opacity="0.6" filter="url(#b2)"/>
<rect x="494" y="283.0" width="30.799999999999955" height="9.8" rx="4.9" ry="4.9" fill="#000" opacity="0.4" filter="url(#b3)"/>
<rect x="536.0" y="282.6" width="29.299999999999955" height="8" rx="4.0" ry="4.0" fill="#000" opacity="1" filter="url(#b15)"/>
<rect x="535.5" y="282.1" width="30.299999999999955" height="9" rx="4.5" ry="4.5" fill="#000" opacity="0.6" filter="url(#b2)"/>
<rect x="534.5" y="281.1" width="32.299999999999955" height="11" rx="5.5" ry="5.5" fill="#000" opacity="0.4" filter="url(#b3)"/>
</g>
<rect x="487.2" y="274.7" width="89" height="31.799999999999997" fill="none" stroke="#333" stroke-width="1"/>
<clipPath id="c7"><rect x="588.2" y="238.3" width="90.4" height="32.6"/></clipPath>
<rect x="588.2" y="238.3" width="90.4" height="32.6" fill="#e0dfe6"/>
<g clip-path="url(#c7)">
<rect x="587.2" y="237.3" width="92.4" height="34.6" fill="none" stroke="#1a1a2a" stroke-width="7" opacity="0.22" filter="url(#b3)"/>
<rect x="639.5" y="242.75" width="30.0" height="22.5" rx="11.25" ry="11.25" fill="#000" opacity="1" filter="url(#b15)"/>
<rect x="639" y="242.25" width="31" height="23.5" rx="11.75" ry="11.75" fill="#000" opacity="0.8" filter="url(#b2)"/>
<rect x="637" y="241.0" width="36" height="26" rx="13.0" ry="13.0" fill="#000" opacity="0.6" filter="url(#b3)"/>
<rect x="650" y="241.0" width="30" height="26" rx="13.0" ry="13.0" fill="#000" opacity="0.35" filter="url(#b3)"/>
</g>
<rect x="588.7" y="238.8" width="89.4" height="31.6" fill="none" stroke="#333" stroke-width="1"/>
<clipPath id="c8"><rect x="588.2" y="274.2" width="90.4" height="32.8"/></clipPath>
<rect x="588.2" y="274.2" width="90.4" height="32.8" fill="#e0dfe6"/>
<g clip-path="url(#c8)">
<rect x="587.2" y="273.2" width="92.4" height="34.8" fill="none" stroke="#1a1a2a" stroke-width="7" opacity="0.22" filter="url(#b3)"/>
<rect x="597.0" y="286.4" width="27.100000000000023" height="9.2" rx="4.6" ry="4.6" fill="#000" opacity="1" filter="url(#b15)"/>
<rect x="596.5" y="285.9" width="28.100000000000023" height="10.2" rx="5.1" ry="5.1" fill="#000" opacity="0.6" filter="url(#b2)"/>
<rect x="595.5" y="284.9" width="30.100000000000023" height="12.2" rx="6.1" ry="6.1" fill="#000" opacity="0.45" filter="url(#b3)"/>
<rect x="638.5" y="285.8" width="30.5" height="12.4" rx="6.2" ry="6.2" fill="#000" opacity="1" filter="url(#b15)"/>
<rect x="638" y="285.3" width="31.5" height="13.4" rx="6.7" ry="6.7" fill="#000" opacity="0.6" filter="url(#b2)"/>
<rect x="637" y="284.3" width="33.5" height="15.4" rx="7.7" ry="7.7" fill="#000" opacity="0.55" filter="url(#b3)"/>
</g>
<rect x="588.7" y="274.7" width="89.4" height="31.799999999999997" fill="none" stroke="#333" stroke-width="1"/>
<text x="680" y="253.9" font-size="8.8" text-anchor="start" fill="#2a2422">—130KD</text>
<text x="680" y="286.1" font-size="8.8" text-anchor="start" fill="#2a2422">—37KD</text>
</svg>
</body></html>
